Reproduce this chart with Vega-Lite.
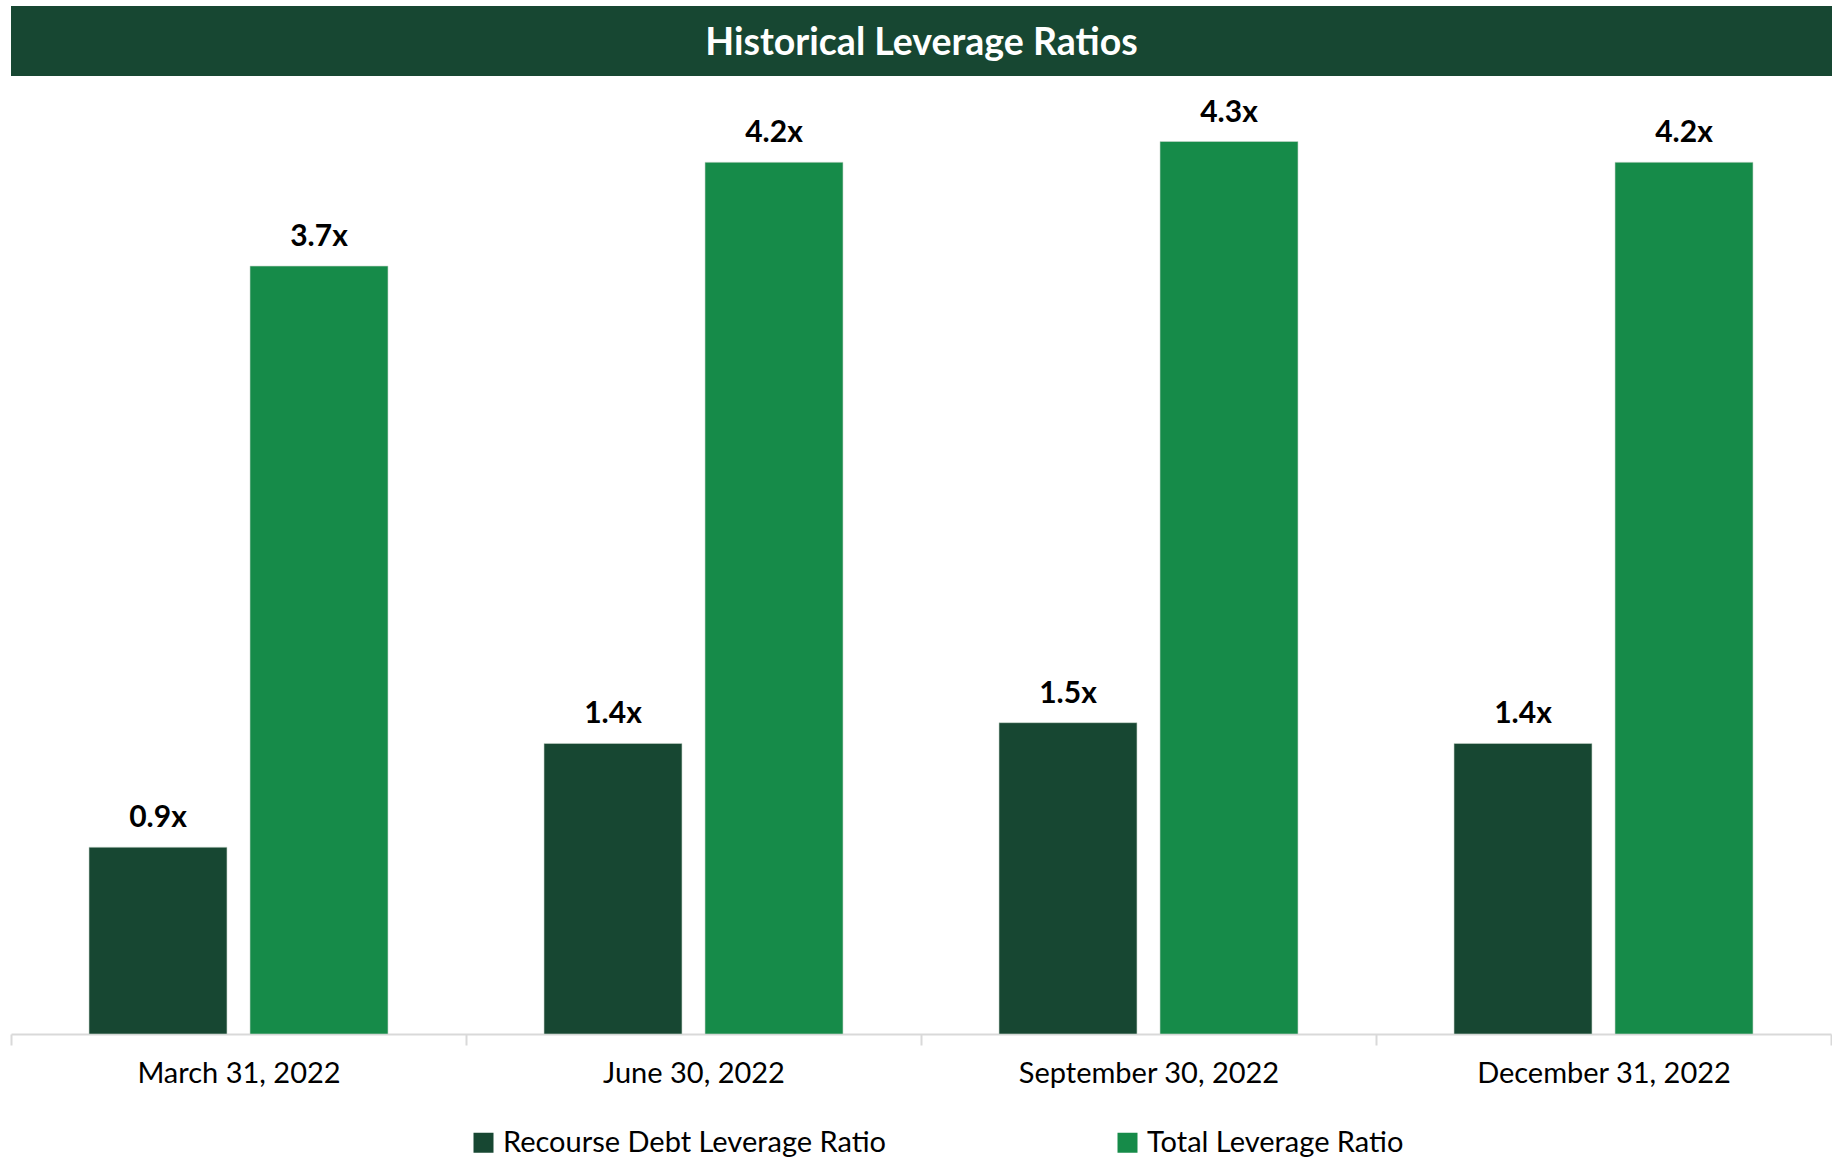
{
  "$schema": "https://vega.github.io/schema/vega-lite/v6.json",
  "background": "white",
  "padding": {"left": 10, "top": 6, "right": 0, "bottom": 0},
  "spacing": 21,
  "config": {"view": {"stroke": null}, "font": "Lato"},
  "vconcat": [
    {
      "width": 1821,
      "height": 70,
      "view": {"fill": "#174732", "stroke": null},
      "data": {"values": [{"title": "Historical Leverage Ratios"}]},
      "mark": {"type": "text", "font": "Lato", "fontSize": 37.5, "fontWeight": "bold", "color": "white", "align": "center", "baseline": "middle", "dy": 3},
      "encoding": {"text": {"field": "title"}}
    },
    {
      "width": 1820,
      "height": 934,
      "data": {"values": [
        {"date": "March 31, 2022", "series": "Recourse Debt Leverage Ratio", "value": 0.9, "label": "0.9x"},
        {"date": "March 31, 2022", "series": "Total Leverage Ratio", "value": 3.7, "label": "3.7x"},
        {"date": "June 30, 2022", "series": "Recourse Debt Leverage Ratio", "value": 1.4, "label": "1.4x"},
        {"date": "June 30, 2022", "series": "Total Leverage Ratio", "value": 4.2, "label": "4.2x"},
        {"date": "September 30, 2022", "series": "Recourse Debt Leverage Ratio", "value": 1.5, "label": "1.5x"},
        {"date": "September 30, 2022", "series": "Total Leverage Ratio", "value": 4.3, "label": "4.3x"},
        {"date": "December 31, 2022", "series": "Recourse Debt Leverage Ratio", "value": 1.4, "label": "1.4x"},
        {"date": "December 31, 2022", "series": "Total Leverage Ratio", "value": 4.2, "label": "4.2x"}
      ]},
      "encoding": {
        "x": {
          "field": "date", "type": "nominal", "sort": null,
          "scale": {"paddingInner": 0, "paddingOuter": 0},
          "axis": {
            "title": null, "labelAngle": 0, "labelFont": "Lato", "labelFontSize": 29, "labelColor": "#000000",
            "labelBaseline": "middle", "labelPadding": 28, "labelLimit": 0,
            "domainColor": "#d9d9d9", "domainWidth": 2,
            "tickColor": "#d9d9d9", "tickWidth": 2, "tickSize": 11, "tickBand": "extent"
          }
        },
        "xOffset": {
          "field": "series", "type": "nominal",
          "sort": ["Recourse Debt Leverage Ratio", "Total Leverage Ratio"],
          "scale": {"paddingInner": 0.143, "paddingOuter": 0.4845}
        },
        "y": {
          "field": "value", "type": "quantitative",
          "scale": {"domain": [0, 4.5], "nice": false},
          "axis": null
        }
      },
      "layer": [
        {
          "mark": {"type": "bar", "stroke": "#c9d6cc", "strokeWidth": 0.6},
          "encoding": {
            "color": {
              "field": "series", "type": "nominal",
              "scale": {"domain": ["Recourse Debt Leverage Ratio", "Total Leverage Ratio"], "range": ["#174732", "#168B49"]},
              "legend": {
                "title": null, "orient": "none", "direction": "horizontal",
                "legendX": 458, "legendY": 1122,
                "symbolType": "square", "symbolSize": 400, "symbolStrokeWidth": 0,
                "labelFont": "Lato", "labelFontSize": 29, "labelColor": "#000000", "labelLimit": 0,
                "labelOffset": 5, "columnPadding": 226
              }
            }
          }
        },
        {
          "mark": {"type": "text", "font": "Lato", "fontSize": 30, "fontWeight": "bold", "color": "#000000", "baseline": "alphabetic", "dy": -20},
          "encoding": {"text": {"field": "label"}}
        }
      ]
    }
  ]
}
